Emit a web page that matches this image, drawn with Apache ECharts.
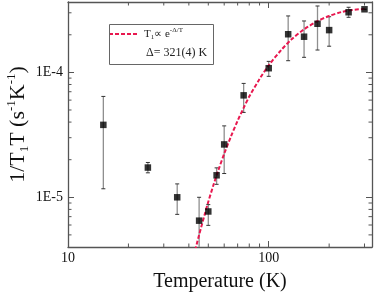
<!DOCTYPE html>
<html>
<head>
<meta charset="utf-8">
<script src="https://cdn.jsdelivr.net/npm/echarts@6/dist/echarts.min.js"></script>
<style>html,body{margin:0;padding:0;background:#fff}#c{width:374px;height:299px}</style>
</head>
<body>
<div id="c"></div>
<script>
// Measured data (temperature in K, 1/T1T in s^-1 K^-1)
var temps   = [15, 25, 35, 45, 50, 55, 60, 75, 100, 125, 150, 175, 200, 250, 300];
var rates   = [3.8e-5, 1.73e-5, 1.0e-5, 6.5e-6, 7.7e-6, 1.5e-5, 2.65e-5, 6.55e-5, 1.08e-4, 2.02e-4, 1.93e-4, 2.45e-4, 2.18e-4, 3.03e-4, 3.2e-4];
var errLow  = [1.17e-5, 1.57e-5, 7.3e-6, 3.0e-6, 5.96e-6, 1.27e-5, 1.55e-5, 4.78e-5, 9.3e-5, 1.24e-4, 1.32e-4, 1.51e-4, 1.62e-4, 2.76e-4, 3.2e-4];
var errHigh = [6.42e-5, 1.9e-5, 1.28e-5, 1.0e-5, 8.74e-6, 1.72e-5, 3.73e-5, 8.16e-5, 1.225e-4, 2.83e-4, 2.58e-4, 3.4e-4, 2.79e-4, 3.32e-4, 3.2e-4];

// Fit curve
var fitT = [43, 44, 45, 46, 48, 50, 53, 56, 60, 65, 70, 75, 80, 90, 100, 115, 130, 150, 175, 200, 230, 260, 300];
var fitV = [3.75e-6, 4.35e-6, 5.0e-6, 5.7e-6, 7.3e-6, 9.2e-6, 1.25e-5, 1.63e-5, 2.23e-5, 3.1e-5, 4.1e-5, 5.2e-5, 6.4e-5, 8.85e-5, 1.14e-4, 1.5e-4, 1.84e-4, 2.21e-4, 2.57e-4, 2.83e-4, 3.04e-4, 3.16e-4, 3.22e-4];

// Axis ranges and ticks
var xMin = 10, xMax = 327;
var yMin = 4e-6, yMax = 3.66e-4;
var xMinorTicks = [20, 30, 40, 50, 60, 70, 80, 90, 200, 300];
var yMinorTicks = [5e-6, 6e-6, 7e-6, 8e-6, 9e-6, 2e-5, 3e-5, 4e-5, 5e-5, 6e-5, 7e-5, 8e-5, 9e-5, 2e-4, 3e-4];

var FONT = 'Liberation Serif';
var AXC = '#555';
var RED = '#e8184f';

var chart = echarts.init(document.getElementById('c'), null, {renderer: 'canvas'});

function zipPts(a, b) { return a.map(function (v, i) { return [v, b[i]]; }); }

var axisCommon = {
  type: 'log', logBase: 10,
  axisLine: {show: true, lineStyle: {color: AXC, width: 1.3}},
  axisTick: {show: true, inside: true, length: 6, lineStyle: {color: AXC, width: 1}},
  splitLine: {show: false},
  minorTick: {show: false}
};

var option = {
  animation: false,
  grid: {left: 68, right: 2, top: 2, bottom: 52, containLabel: false, outerBoundsMode: 'none'},
  xAxis: [
    Object.assign({}, axisCommon, {
      position: 'bottom', min: xMin, max: xMax,
      name: '{a|Temperature (K)}', nameLocation: 'middle', nameGap: 25,
      nameTextStyle: {fontFamily: FONT, fontSize: 20, color: '#111',
        rich: {a: {fontFamily: FONT, fontSize: 20, color: '#111'}}},
      axisLabel: {show: true, margin: 4, fontFamily: FONT, fontSize: 14, color: '#111',
        showMinLabel: true, showMaxLabel: false,
        formatter: function (v) { return String(Math.round(v)); }}
    }),
    Object.assign({}, axisCommon, {
      position: 'top', min: xMin, max: xMax,
      axisLabel: {show: false}
    })
  ],
  yAxis: [
    Object.assign({}, axisCommon, {
      position: 'left', min: yMin, max: yMax,
      name: '{a|1/T}{s|1}{a|T (s}{p|-1}{a|K}{p|-1}{a|)}',
      nameLocation: 'middle', nameGap: 37, nameRotate: 90, nameMoveOverlap: false,
      nameTextStyle: {fontFamily: FONT, fontSize: 22, color: '#111',
        rich: {
          a: {fontFamily: FONT, fontSize: 22, color: '#111', lineHeight: 26},
          s: {fontFamily: FONT, fontSize: 13, color: '#111', verticalAlign: 'bottom', lineHeight: 13},
          p: {fontFamily: FONT, fontSize: 13, color: '#111', verticalAlign: 'top', lineHeight: 13}
        }},
      axisLabel: {show: true, margin: 5, fontFamily: FONT, fontSize: 14, color: '#111',
        showMinLabel: false, showMaxLabel: false,
        formatter: function (v) { return '1E' + Math.round(Math.log10(v)); }}
    }),
    Object.assign({}, axisCommon, {
      position: 'right', min: yMin, max: yMax,
      axisLabel: {show: false}
    })
  ],
  legend: {
    show: true, left: 108, top: 27, itemWidth: 30, itemHeight: 12, itemGap: 0, padding: 0,
    selectedMode: false,
    itemStyle: {opacity: 0},
    data: [{name: 'fit'}],
    formatter: function () { return '{a|T}{s|1}{a|\u221D e}{p|-\u0394/T}'; },
    textStyle: {fontFamily: FONT, fontSize: 11, color: '#222',
      rich: {
        a: {fontFamily: FONT, fontSize: 11, color: '#222', lineHeight: 14},
        s: {fontFamily: FONT, fontSize: 7, color: '#222', verticalAlign: 'bottom', lineHeight: 8},
        p: {fontFamily: FONT, fontSize: 7, color: '#222', verticalAlign: 'top', lineHeight: 8}
      }}
  },
  graphic: [
    {type: 'rect', left: 107, top: 22, shape: {width: 104, height: 40},
      style: {fill: 'none', stroke: '#666', lineWidth: 1}, z: 10},
    {type: 'text', left: 146, top: 47,
      style: {text: '\u0394= 321(4) K', font: '12px "Liberation Serif"', fill: '#222'}, z: 10}
  ],
  series: [
    {
      name: 'errbars', type: 'custom', xAxisIndex: 0, yAxisIndex: 0, clip: true, silent: true, z: 2,
      data: temps.map(function (t, i) { return [t, errLow[i], errHigh[i]]; }),
      renderItem: function (params, api) {
        var lo = api.coord([api.value(0), api.value(1)]);
        var hi = api.coord([api.value(0), api.value(2)]);
        var cw = 2;
        return {type: 'group', children: [
          {type: 'line', shape: {x1: lo[0], y1: lo[1], x2: hi[0], y2: hi[1]}, style: {stroke: '#8f8f8f', lineWidth: 1.3}},
          {type: 'line', shape: {x1: lo[0] - cw, y1: lo[1], x2: lo[0] + cw, y2: lo[1]}, style: {stroke: '#333', lineWidth: 1}},
          {type: 'line', shape: {x1: hi[0] - cw, y1: hi[1], x2: hi[0] + cw, y2: hi[1]}, style: {stroke: '#333', lineWidth: 1}}
        ]};
      }
    },
    {
      name: 'data', type: 'scatter', xAxisIndex: 0, yAxisIndex: 0, z: 4,
      symbol: 'rect', symbolSize: 6.5, itemStyle: {color: '#000'},
      data: zipPts(temps, rates)
    },
    {
      name: 'fit', type: 'line', xAxisIndex: 0, yAxisIndex: 0, z: 3, smooth: 0.3,
      showSymbol: false, symbol: 'none', clip: true,
      lineStyle: {color: RED, width: 2, type: [4, 2]},
      itemStyle: {color: RED},
      data: zipPts(fitT, fitV)
    },
    {
      name: 'xminor', type: 'custom', xAxisIndex: 0, yAxisIndex: 0, silent: true, clip: false, z: 5,
      data: xMinorTicks.map(function (t) { return [t, 1e-5]; }),
      renderItem: function (params, api) {
        var x = api.coord([api.value(0), 1e-5])[0];
        var cs = params.coordSys; var b = cs.y + cs.height;
        return {type: 'group', children: [
          {type: 'line', shape: {x1: x, y1: b, x2: x, y2: b - 3.5}, style: {stroke: AXC, lineWidth: 1}},
          {type: 'line', shape: {x1: x, y1: cs.y, x2: x, y2: cs.y + 3.5}, style: {stroke: AXC, lineWidth: 1}}
        ]};
      }
    },
    {
      name: 'yminor', type: 'custom', xAxisIndex: 0, yAxisIndex: 0, silent: true, clip: false, z: 5,
      data: yMinorTicks.map(function (v) { return [20, v]; }),
      renderItem: function (params, api) {
        var y = api.coord([20, api.value(1)])[1];
        var cs = params.coordSys; var r = cs.x + cs.width;
        return {type: 'group', children: [
          {type: 'line', shape: {x1: cs.x, y1: y, x2: cs.x + 3.5, y2: y}, style: {stroke: AXC, lineWidth: 1}},
          {type: 'line', shape: {x1: r, y1: y, x2: r - 3.5, y2: y}, style: {stroke: AXC, lineWidth: 1}}
        ]};
      }
    }
  ]
};
chart.setOption(option);
</script>
</body>
</html>
